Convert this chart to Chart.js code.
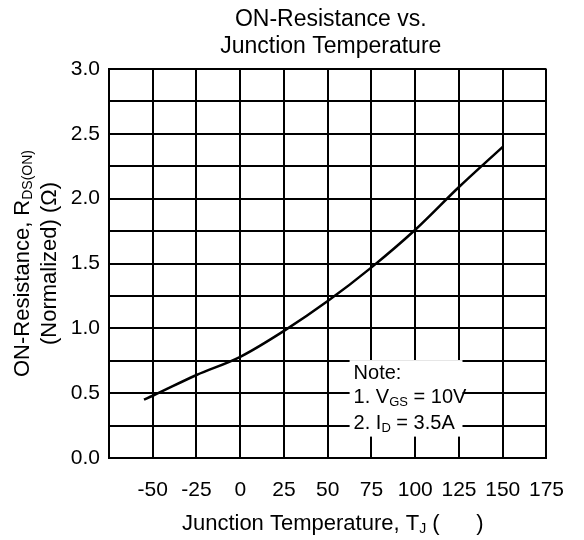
<!DOCTYPE html>
<html>
<head>
<meta charset="utf-8">
<script src="https://cdn.jsdelivr.net/npm/chart.js@4.4.1/dist/chart.umd.min.js"></script>
<style>
  html, body { margin: 0; padding: 0; background: #fff; }
  #wrap { width: 584px; height: 540px; }
</style>
</head>
<body>
<div id="wrap"><canvas id="c" width="584" height="540"></canvas></div>
<script>
// ── Data ────────────────────────────────────────────────────────────────────
const temps = [-55, -50, -25, 0, 25, 50, 75, 100, 125, 150];
const rds   = [0.45, 0.48, 0.64, 0.78, 0.98, 1.21, 1.47, 1.76, 2.09, 2.40];

const xMin = -75, xMax = 175, xStep = 25;
const yMin = 0,   yMax = 3,   yStep = 0.25;

const titleLines = ['ON-Resistance vs.', 'Junction Temperature'];
const noteLines = [
    [{ t: 'Note:' }],
    [{ t: '1. V' }, { t: 'GS', sub: true }, { t: ' = 10V' }],
    [{ t: '2. I' }, { t: 'D', sub: true }, { t: ' = 3.5A' }],
];
const yTitle1 = [{ t: 'ON-Resistance, R' }, { t: 'DS(ON)', sub: true }];
const yTitle2 = [{ t: '(Normalized) (Ω)' }];
const xTitle  = [{ t: 'Junction Temperature, T' }, { t: 'J', sub: true }, { t: ' (      )' }];

const FONT = "Arial, 'Liberation Sans', sans-serif";

// ── helpers ────────────────────────────────────────────────────────────────
function richWidth(ctx, parts, size) {
    let w = 0;
    parts.forEach(p => {
        ctx.font = `${p.sub ? Math.round(size * 0.65) : size}px ${FONT}`;
        w += ctx.measureText(p.t).width;
    });
    return w;
}
function drawRich(ctx, parts, x, y, size, align) {
    let cx = align === 'center' ? x - richWidth(ctx, parts, size) / 2 : x;
    ctx.textBaseline = 'middle';
    ctx.textAlign = 'left';
    parts.forEach(p => {
        const s = p.sub ? Math.round(size * 0.65) : size;
        ctx.font = `${s}px ${FONT}`;
        ctx.fillText(p.t, cx, p.sub ? y + size * 0.25 : y);
        cx += ctx.measureText(p.t).width;
    });
}

// ── Text overlay plugin ─────────────────────────────────────────────────────
const overlay = {
    id: 'overlay',
    afterDatasetsDraw(chart) {
        const { ctx, scales: { x, y } } = chart;
        ctx.save();

        // note box (white, hides the grid behind it)
        const bx0 = x.getPixelForValue(62.5), bx1 = x.getPixelForValue(127);
        const by0 = y.getPixelForValue(0.755), by1 = y.getPixelForValue(0.165);
        ctx.fillStyle = '#fff';
        ctx.fillRect(bx0, by0, bx1 - bx0, by1 - by0);
        ctx.fillStyle = '#000';
        const nx = bx0 + 4;
        drawRich(ctx, noteLines[0], nx, by0 + 13, 20, 'left');
        drawRich(ctx, noteLines[1], nx, by0 + 37, 20, 'left');
        drawRich(ctx, noteLines[2], nx, by0 + 63, 20, 'left');

        // chart title
        const cx = (chart.chartArea.left + chart.chartArea.right) / 2 + 3;
        drawRich(ctx, [{ t: titleLines[0] }], cx, 20, 23, 'center');
        drawRich(ctx, [{ t: titleLines[1] }], cx, 47, 23, 'center');

        // x axis title
        drawRich(ctx, xTitle, cx + 2, 524, 22, 'center');

        // y axis title (rotated)
        const cy = (chart.chartArea.top + chart.chartArea.bottom) / 2;
        ctx.translate(0, cy);
        ctx.rotate(-Math.PI / 2);
        drawRich(ctx, yTitle1, 0, 23, 22, 'center');
        drawRich(ctx, yTitle2, 0, 50, 22, 'center');
        ctx.restore();
    }
};

// ── Chart ──────────────────────────────────────────────────────────────────
new Chart(document.getElementById('c'), {
    type: 'scatter',
    data: {
        datasets: [{
            data: temps.map((t, i) => ({ x: t, y: rds[i] })),
            showLine: true,
            borderColor: '#000', borderWidth: 2.5,
            pointRadius: 0,
            cubicInterpolationMode: 'monotone',
        }]
    },
    options: {
        responsive: false, animation: false,
        layout: { padding: { top: 69, right: 27, left: 0, bottom: 0 } },
        plugins: { legend: { display: false }, tooltip: { enabled: false }, title: { display: false } },
        scales: {
            x: {
                type: 'linear', min: xMin, max: xMax,
                afterFit: s => { s.height = 82; },
                grid: { color: '#000', lineWidth: 2, drawTicks: false },
                border: { color: '#000', width: 2 },
                ticks: {
                    stepSize: xStep, autoSkip: false, maxRotation: 0, padding: 20,
                    color: '#000', font: { family: FONT, size: 21 },
                    callback: v => v === xMin ? '' : String(v),
                }
            },
            y: {
                type: 'linear', min: yMin, max: yMax,
                afterFit: s => { s.width = 109; },
                grid: { color: '#000', lineWidth: 2, drawTicks: false },
                border: { color: '#000', width: 2 },
                ticks: {
                    stepSize: yStep, autoSkip: false, padding: 9,
                    color: '#000', font: { family: FONT, size: 21 },
                    callback: v => Math.abs(v * 2 - Math.round(v * 2)) < 1e-6 ? v.toFixed(1) : '',
                }
            }
        }
    },
    plugins: [overlay]
});
</script>
</body>
</html>
